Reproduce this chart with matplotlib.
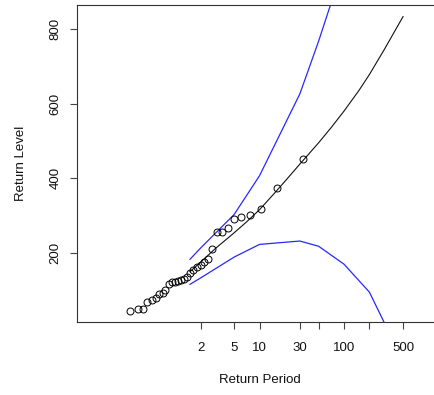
import numpy as np
import matplotlib
matplotlib.use("Agg")
import matplotlib.pyplot as plt

plt.rcParams['font.family'] = ['Liberation Sans', 'DejaVu Sans']

# empirical points (sorted maxima vs. plotting position return period)
obs_period = [0.29, 0.36, 0.42, 0.47, 0.53, 0.59, 0.65, 0.71, 0.77, 0.84,
              0.91, 0.99, 1.07, 1.17, 1.27, 1.38, 1.51, 1.65, 1.81, 2.0,
              2.21, 2.47, 2.77, 3.14, 3.6, 4.19, 4.98, 6.09, 7.74, 10.5,
              16.0, 32.5]
obs_level = [45, 50, 50, 70, 74, 80, 90, 93, 100, 118,
             122, 123, 126, 129, 131, 135, 147, 155, 162, 169,
             177, 185, 212, 256, 256, 268, 290, 296, 301, 319,
             374, 452]

# fitted return level curve
fit_period = [1.5, 2, 3, 5, 7, 10, 15, 20, 30, 50, 70, 100, 150, 200, 300, 500]
fit_level = [150, 175, 212, 254, 283, 316, 360, 392, 438, 495, 535, 580, 635, 678, 745, 833]

# confidence bounds
ci_period = [1.5, 2, 5, 10, 30, 50, 100, 200, 500]
ci_upper = [183, 213, 303, 407, 626, 767, 975, 1264, 1788]
ci_lower = [116, 133, 189, 223, 232, 218, 170, 95, -90]

xticks = [2, 5, 10, 30, 50, 100, 200, 500]
xticklabels = ['2', '5', '10', '30', '', '100', '', '500']
yticks = [200, 400, 600, 800]

fig = plt.figure(figsize=(4.35, 3.95), dpi=100)
ax = fig.add_axes([77/435, 1-322.3/395, 365/435, 317.3/395])

ax.plot(fit_period, fit_level, color='#111111', lw=0.8)
ax.plot(ci_period, ci_upper, color='#2828ff', lw=0.9)
ax.plot(ci_period, ci_lower, color='#2828ff', lw=0.9)
ax.plot(obs_period, obs_level, 'o', mfc='none', mec='black', ms=5, mew=0.7)

ax.set_xscale('log')
ax.set_xlim(0.069, 1445)
ax.set_ylim(14.4, 864)
ax.set_xticks(xticks)
ax.set_xticklabels(xticklabels)
ax.minorticks_off()
ax.set_yticks(yticks)
ax.set_yticklabels([str(v) for v in yticks], rotation=90, va='center')

ax.tick_params(axis='both', direction='out', length=5, width=0.8,
               color='#444444', labelsize=9.5, labelcolor='#111111')
ax.tick_params(axis='x', pad=9)
ax.tick_params(axis='y', pad=6)
for s in ax.spines.values():
    s.set_color('#333333')
    s.set_linewidth(0.8)

ax.set_xlabel('Return Period', fontsize=9.5, color='#111111', va='center')
ax.xaxis.set_label_coords(0.5, -58/317.3)
ax.set_ylabel('Return Level', fontsize=9.5, color='#111111', va='center', ha='center')
ax.yaxis.set_label_coords(-56/365, 0.5)

fig.savefig('out.png', dpi=100)
